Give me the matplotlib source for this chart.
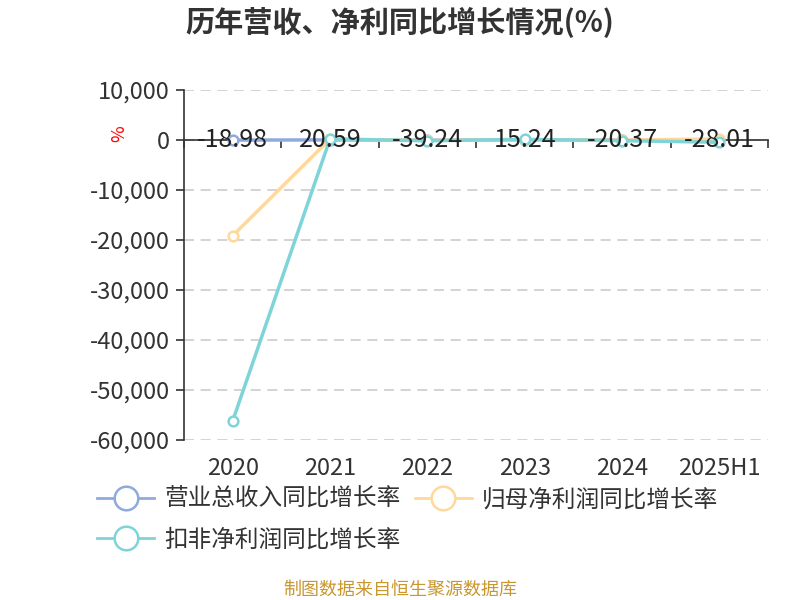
import matplotlib
matplotlib.use("Agg")
import matplotlib.pyplot as plt
from matplotlib.lines import Line2D

plt.rcParams['font.family'] = ['Noto Sans CJK SC', 'DejaVu Sans']

categories = ["2020", "2021", "2022", "2023", "2024", "2025H1"]
revenue = [-18.98, 20.59, -39.24, 15.24, -20.37, -28.01]
parent_profit = [-19150, 180, -95, 40, -30, 230]
deducted_profit = [-56200, 200, -150, 120, -130, -450]
yticks = [10000, 0, -10000, -20000, -30000, -40000, -50000, -60000]

c_rev = "#8FAADC"
c_par = "#FFD89B"
c_ded = "#7FD4D8"

fig = plt.figure(figsize=(8, 6), dpi=100)
ax = fig.add_axes([0.23, 0.2667, 0.73, 0.5833])
x = list(range(len(categories)))

for vals, col in [(revenue, c_rev), (parent_profit, c_par), (deducted_profit, c_ded)]:
    ax.plot(x, vals, color=col, lw=2.5, marker='o', markersize=7,
            markerfacecolor='white', markeredgecolor=col, markeredgewidth=1.8, zorder=3)

for xi, v in zip(x, revenue):
    ax.text(xi, v, f"{v:.2f}", ha='center', va='center', fontsize=18, color='#222222', zorder=4)

ax.set_xlim(-0.5, len(categories) - 0.5)
ax.set_ylim(-60000, 10000)
ax.set_yticks(yticks)
ax.set_yticklabels([f"{t:,}" for t in yticks], fontsize=17, color='#333333')
ax.yaxis.grid(True, linestyle=(0, (6, 4)), color='#cccccc', lw=1.2)
ax.tick_params(axis='y', length=6, color='#333333', width=1.2, pad=4)

for s in ['top', 'right']:
    ax.spines[s].set_visible(False)
ax.spines['left'].set_color('#333333')
ax.spines['left'].set_linewidth(1.2)
ax.spines['bottom'].set_position(('data', 0))
ax.spines['bottom'].set_color('#333333')
ax.spines['bottom'].set_linewidth(1.2)
ax.spines['bottom'].set_zorder(2)
ax.set_xticks([i - 0.5 for i in range(len(categories) + 1)])
ax.set_xticklabels([])
ax.tick_params(axis='x', length=6, direction='out', color='#333333', width=1.2)

sec = ax.secondary_xaxis(0)
sec.set_xticks(x)
sec.set_xticklabels(categories, fontsize=17, color='#333333')
sec.tick_params(length=0, pad=12)
sec.spines['bottom'].set_visible(False)

ax.set_ylabel('%', color='red', fontsize=13, rotation=90)
ax.yaxis.set_label_coords(-0.095, 0.875)

fig.text(0.5, 0.962, "历年营收、净利同比增长情况(%)", ha='center', va='center',
         fontsize=21, fontweight='bold', color='#333333')
fig.text(0.5, 0.018, "制图数据来自恒生聚源数据库", ha='center', va='center',
         fontsize=13, color='#C9962F')

handles = [Line2D([], [], color=c, lw=2, marker='o', markersize=17,
                  markerfacecolor='white', markeredgecolor=c, markeredgewidth=1.8)
           for c in [c_rev, c_ded, c_par]]
labels = ["营业总收入同比增长率", "扣非净利润同比增长率", "归母净利润同比增长率"]
fig.legend(handles, labels, loc='upper left', bbox_to_anchor=(0.095, 0.222), ncol=2,
           frameon=False, fontsize=17, handlelength=2.4, columnspacing=0.6,
           labelspacing=0.75, handletextpad=0.45, labelcolor='#333333')

fig.savefig("out.png", dpi=100)
